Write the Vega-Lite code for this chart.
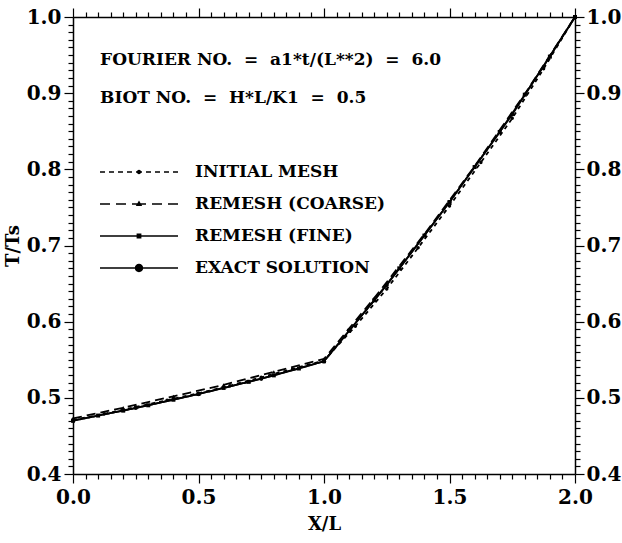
{
  "$schema": "https://vega.github.io/schema/vega-lite/v6.json",
  "autosize": {"type": "none"},
  "width": 502,
  "height": 457,
  "padding": {"left": 73, "top": 17, "right": 47, "bottom": 69},
  "background": "white",
  "config": {
    "view": {"stroke": null},
    "axis": {
      "labelFont": "DejaVu Serif",
      "labelFontWeight": "bold",
      "labelFontSize": 20,
      "labelColor": "black",
      "titleFont": "DejaVu Serif",
      "titleFontWeight": "bold",
      "titleFontSize": 18,
      "titleColor": "black",
      "domainColor": "black",
      "domainWidth": 1.5,
      "tickColor": "black",
      "tickWidth": 1.2,
      "grid": false,
      "labelOverlap": false,
      "labelFlush": false,
      "labelBound": false
    }
  },
  "datasets": {
    "curves": [
      {"series": "INITIAL MESH", "x": 0.0, "y": 0.471},
      {"series": "INITIAL MESH", "x": 0.125, "y": 0.479},
      {"series": "INITIAL MESH", "x": 0.25, "y": 0.488},
      {"series": "INITIAL MESH", "x": 0.375, "y": 0.497},
      {"series": "INITIAL MESH", "x": 0.5, "y": 0.506},
      {"series": "INITIAL MESH", "x": 0.625, "y": 0.516},
      {"series": "INITIAL MESH", "x": 0.75, "y": 0.527},
      {"series": "INITIAL MESH", "x": 0.875, "y": 0.538},
      {"series": "INITIAL MESH", "x": 1.0, "y": 0.549},
      {"series": "INITIAL MESH", "x": 1.125, "y": 0.594},
      {"series": "INITIAL MESH", "x": 1.25, "y": 0.643},
      {"series": "INITIAL MESH", "x": 1.375, "y": 0.697},
      {"series": "INITIAL MESH", "x": 1.5, "y": 0.752},
      {"series": "INITIAL MESH", "x": 1.625, "y": 0.809},
      {"series": "INITIAL MESH", "x": 1.75, "y": 0.867},
      {"series": "INITIAL MESH", "x": 1.875, "y": 0.932},
      {"series": "INITIAL MESH", "x": 2.0, "y": 1.0},
      {"series": "REMESH (COARSE)", "x": 0.0, "y": 0.473},
      {"series": "REMESH (COARSE)", "x": 0.2, "y": 0.487},
      {"series": "REMESH (COARSE)", "x": 0.4, "y": 0.502},
      {"series": "REMESH (COARSE)", "x": 0.6, "y": 0.517},
      {"series": "REMESH (COARSE)", "x": 0.8, "y": 0.534},
      {"series": "REMESH (COARSE)", "x": 1.0, "y": 0.551},
      {"series": "REMESH (COARSE)", "x": 1.2, "y": 0.631},
      {"series": "REMESH (COARSE)", "x": 1.4, "y": 0.715},
      {"series": "REMESH (COARSE)", "x": 1.6, "y": 0.804},
      {"series": "REMESH (COARSE)", "x": 1.8, "y": 0.899},
      {"series": "REMESH (COARSE)", "x": 2.0, "y": 1.0},
      {"series": "REMESH (FINE)", "x": 0.0, "y": 0.470},
      {"series": "REMESH (FINE)", "x": 0.1, "y": 0.4767},
      {"series": "REMESH (FINE)", "x": 0.2, "y": 0.4832},
      {"series": "REMESH (FINE)", "x": 0.3, "y": 0.4902},
      {"series": "REMESH (FINE)", "x": 0.4, "y": 0.4975},
      {"series": "REMESH (FINE)", "x": 0.5, "y": 0.505},
      {"series": "REMESH (FINE)", "x": 0.6, "y": 0.513},
      {"series": "REMESH (FINE)", "x": 0.7, "y": 0.521},
      {"series": "REMESH (FINE)", "x": 0.8, "y": 0.5295},
      {"series": "REMESH (FINE)", "x": 0.9, "y": 0.5385},
      {"series": "REMESH (FINE)", "x": 1.0, "y": 0.548},
      {"series": "REMESH (FINE)", "x": 1.1, "y": 0.588},
      {"series": "REMESH (FINE)", "x": 1.2, "y": 0.628},
      {"series": "REMESH (FINE)", "x": 1.3, "y": 0.670},
      {"series": "REMESH (FINE)", "x": 1.4, "y": 0.713},
      {"series": "REMESH (FINE)", "x": 1.5, "y": 0.757},
      {"series": "REMESH (FINE)", "x": 1.6, "y": 0.803},
      {"series": "REMESH (FINE)", "x": 1.7, "y": 0.849},
      {"series": "REMESH (FINE)", "x": 1.8, "y": 0.898},
      {"series": "REMESH (FINE)", "x": 1.9, "y": 0.948},
      {"series": "REMESH (FINE)", "x": 2.0, "y": 1.0},
      {"series": "EXACT SOLUTION", "x": 0.0, "y": 0.470},
      {"series": "EXACT SOLUTION", "x": 0.25, "y": 0.4867},
      {"series": "EXACT SOLUTION", "x": 0.5, "y": 0.505},
      {"series": "EXACT SOLUTION", "x": 0.75, "y": 0.525},
      {"series": "EXACT SOLUTION", "x": 1.0, "y": 0.548},
      {"series": "EXACT SOLUTION", "x": 1.25, "y": 0.648},
      {"series": "EXACT SOLUTION", "x": 1.5, "y": 0.757},
      {"series": "EXACT SOLUTION", "x": 1.75, "y": 0.872},
      {"series": "EXACT SOLUTION", "x": 2.0, "y": 1.0}
    ],
    "fourier": [{"label": "FOURIER NO.\u00a0 =\u00a0 a1*t/(L**2)\u00a0 =\u00a0 6.0"}],
    "biot": [{"label": "BIOT NO.\u00a0 =\u00a0 H*L/K1\u00a0 =\u00a0 0.5"}]
  },
  "resolve": {
    "axis": {"x": "independent", "y": "independent"},
    "scale": {"shape": "independent"},
    "legend": {"shape": "independent"}
  },
  "layer": [
    {
      "data": {"name": "curves"},
      "mark": {"type": "line", "color": "black", "strokeWidth": 1.8},
      "encoding": {
        "x": {
          "field": "x", "type": "quantitative",
          "scale": {"domain": [0, 2], "nice": false, "zero": false},
          "axis": {
            "orient": "bottom", "title": "X/L", "titlePadding": 8,
            "values": [0,0.05,0.1,0.15,0.2,0.25,0.3,0.35,0.4,0.45,0.5,0.55,0.6,0.65,0.7,0.75,0.8,0.85,0.9,0.95,1,1.05,1.1,1.15,1.2,1.25,1.3,1.35,1.4,1.45,1.5,1.55,1.6,1.65,1.7,1.75,1.8,1.85,1.9,1.95,2],
            "labelExpr": "round(datum.value*20) % 10 == 0 ? format(datum.value, '.1f') : ''",
            "tickSize": {"condition": {"test": "round(datum.value*20) % 10 == 0", "value": 9}, "value": 5},
            "labelPadding": 4
          }
        },
        "y": {
          "field": "y", "type": "quantitative",
          "scale": {"domain": [0.4, 1.0], "nice": false, "zero": false},
          "axis": {
            "orient": "left", "title": "T/Ts", "titlePadding": 4,
            "values": [0.4,0.41,0.42,0.43,0.44,0.45,0.46,0.47,0.48,0.49,0.5,0.51,0.52,0.53,0.54,0.55,0.56,0.57,0.58,0.59,0.6,0.61,0.62,0.63,0.64,0.65,0.66,0.67,0.68,0.69,0.7,0.71,0.72,0.73,0.74,0.75,0.76,0.77,0.78,0.79,0.8,0.81,0.82,0.83,0.84,0.85,0.86,0.87,0.88,0.89,0.9,0.91,0.92,0.93,0.94,0.95,0.96,0.97,0.98,0.99,1.0],
            "labelExpr": "round(datum.value*100) % 10 == 0 ? format(datum.value, '.1f') : ''",
            "tickSize": {"condition": {"test": "round(datum.value*100) % 10 == 0", "value": 9}, "value": 5},
            "labelPadding": 3
          }
        },
        "strokeDash": {
          "field": "series", "type": "nominal",
          "scale": {
            "domain": ["INITIAL MESH", "REMESH (COARSE)", "REMESH (FINE)", "EXACT SOLUTION"],
            "range": [[4, 4], [9, 5], [1, 0], [1, 0]]
          },
          "legend": null
        }
      }
    },
    {
      "data": {"name": "curves"},
      "mark": {"type": "point", "filled": true, "color": "black", "opacity": 1},
      "encoding": {
        "x": {
          "field": "x", "type": "quantitative",
          "axis": {
            "orient": "top", "title": null, "labels": false,
            "values": [0,0.05,0.1,0.15,0.2,0.25,0.3,0.35,0.4,0.45,0.5,0.55,0.6,0.65,0.7,0.75,0.8,0.85,0.9,0.95,1,1.05,1.1,1.15,1.2,1.25,1.3,1.35,1.4,1.45,1.5,1.55,1.6,1.65,1.7,1.75,1.8,1.85,1.9,1.95,2],
            "tickSize": {"condition": {"test": "round(datum.value*20) % 10 == 0", "value": 9}, "value": 5}
          }
        },
        "y": {
          "field": "y", "type": "quantitative",
          "axis": {
            "orient": "right", "title": null,
            "values": [0.4,0.41,0.42,0.43,0.44,0.45,0.46,0.47,0.48,0.49,0.5,0.51,0.52,0.53,0.54,0.55,0.56,0.57,0.58,0.59,0.6,0.61,0.62,0.63,0.64,0.65,0.66,0.67,0.68,0.69,0.7,0.71,0.72,0.73,0.74,0.75,0.76,0.77,0.78,0.79,0.8,0.81,0.82,0.83,0.84,0.85,0.86,0.87,0.88,0.89,0.9,0.91,0.92,0.93,0.94,0.95,0.96,0.97,0.98,0.99,1.0],
            "labelExpr": "round(datum.value*100) % 10 == 0 ? format(datum.value, '.1f') : ''",
            "tickSize": {"condition": {"test": "round(datum.value*100) % 10 == 0", "value": 9}, "value": 5},
            "labelPadding": 2
          }
        },
        "shape": {
          "field": "series", "type": "nominal",
          "scale": {
            "domain": ["INITIAL MESH", "REMESH (COARSE)", "REMESH (FINE)", "EXACT SOLUTION"],
            "range": ["circle", "triangle-up", "square", "circle"]
          },
          "legend": null
        },
        "size": {
          "field": "series", "type": "nominal",
          "scale": {
            "domain": ["INITIAL MESH", "REMESH (COARSE)", "REMESH (FINE)", "EXACT SOLUTION"],
            "range": [12, 18, 12, 50]
          },
          "legend": null
        }
      }
    },
    {
      "data": {"name": "curves"},
      "transform": [{"filter": "false"}],
      "mark": {"type": "point", "filled": true, "color": "black", "opacity": 1},
      "encoding": {
        "shape": {
          "field": "series", "type": "nominal",
          "scale": {
            "domain": ["INITIAL MESH", "REMESH (COARSE)", "REMESH (FINE)", "EXACT SOLUTION"],
            "range": [
              "M-3.9,-0.07h0.5v0.14h-0.5ZM-3,-0.07h0.5v0.14h-0.5ZM-2.1,-0.07h0.5v0.14h-0.5ZM-1.2,-0.07h0.5v0.14h-0.5ZM-0.3,-0.07h0.6v0.14h-0.6ZM0.7,-0.07h0.5v0.14h-0.5ZM1.6,-0.07h0.5v0.14h-0.5ZM2.5,-0.07h0.5v0.14h-0.5ZM3.4,-0.07h0.5v0.14h-0.5ZM0.22,0A0.22,0.22 0 1,1 -0.22,0A0.22,0.22 0 1,1 0.22,0Z",
              "M-3.9,-0.07h1v0.14h-1ZM-2.3,-0.07h1v0.14h-1ZM-0.7,-0.07h1.4v0.14h-1.4ZM1.3,-0.07h1v0.14h-1ZM2.9,-0.07h1v0.14h-1ZM0,-0.36L0.32,0.2L-0.32,0.2Z",
              "M-3.9,-0.07H3.9V0.07H-3.9ZM-0.24,-0.24h0.48v0.48h-0.48Z",
              "M-3.9,-0.07H3.9V0.07H-3.9ZM0.42,0A0.42,0.42 0 1,1 -0.42,0A0.42,0.42 0 1,1 0.42,0Z"
            ]
          },
          "legend": {
            "orient": "none", "legendX": 27, "legendY": 145,
            "title": null, "padding": 0,
            "symbolSize": 400, "symbolOffset": 29, "labelOffset": 46, "rowPadding": 14,
            "labelLimit": 0,
            "symbolFillColor": "black", "symbolStrokeWidth": 0, "symbolOpacity": 1,
            "labelFont": "DejaVu Serif", "labelFontWeight": "bold", "labelFontSize": 17, "labelColor": "black"
          }
        }
      }
    },
    {
      "data": {"name": "fourier"},
      "mark": {"type": "text", "align": "left", "baseline": "middle", "font": "DejaVu Serif", "fontWeight": "bold", "fontSize": 17, "color": "black"},
      "encoding": {
        "x": {"datum": 0.108, "type": "quantitative", "axis": null},
        "y": {"datum": 0.9435, "type": "quantitative", "axis": null},
        "text": {"field": "label"}
      }
    },
    {
      "data": {"name": "biot"},
      "mark": {"type": "text", "align": "left", "baseline": "middle", "font": "DejaVu Serif", "fontWeight": "bold", "fontSize": 17, "color": "black"},
      "encoding": {
        "x": {"datum": 0.108, "type": "quantitative", "axis": null},
        "y": {"datum": 0.8936, "type": "quantitative", "axis": null},
        "text": {"field": "label"}
      }
    }
  ]
}
